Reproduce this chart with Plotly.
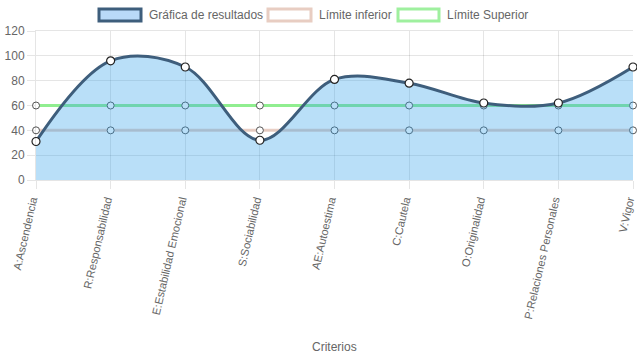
import plotly.graph_objects as go

categories = ["A:Ascendencia", "R:Responsabilidad", "E:Estabilidad Emocional",
              "S:Sociabilidad", "AE:Autoestima", "C:Cautela", "O:Originalidad",
              "P:Relaciones Personales", "V:Vigor"]
resultados = [31, 96, 91, 32, 81, 78, 62, 62, 91]
limite_inferior = [40, 40, 40, 40, 40, 40, 40, 40, 40]
limite_superior = [60, 60, 60, 60, 60, 60, 60, 60, 60]
y_ticks = [0, 20, 40, 60, 80, 100, 120]

W, H = 637, 359
L, R, T, B = 36, 4, 31, 179
PW, PH = W - L - R, H - T - B

def px(x):
    return (x - L) / PW

def py(y):
    return (H - B - y) / PH

FONT = "Liberation Sans, Arial, Helvetica, sans-serif"
TXT = "#666666"
GRID = "rgba(0,0,0,0.1)"
DARK = "#3e5e7c"
FILL = "rgba(54,162,235,0.35)"
PINK = "rgba(228,195,182,0.8)"
GREEN = "rgba(144,238,144,1)"

fig = go.Figure()
fig.add_trace(go.Scatter(
    x=categories, y=limite_inferior, mode="lines+markers", name="Límite inferior",
    line=dict(color=PINK, width=3), cliponaxis=False,
    marker=dict(size=7, color="white", line=dict(color="#555555", width=1)),
))
fig.add_trace(go.Scatter(
    x=categories, y=limite_superior, mode="lines+markers", name="Límite Superior",
    line=dict(color=GREEN, width=3), cliponaxis=False,
    marker=dict(size=7, color="white", line=dict(color="#555555", width=1)),
))
fig.add_trace(go.Scatter(
    x=categories, y=resultados, mode="lines+markers", name="Gráfica de resultados",
    line=dict(color=DARK, width=3, shape="spline", smoothing=1.0),
    fill="tozeroy", fillcolor=FILL, cliponaxis=False,
    marker=dict(size=8, color="white", line=dict(color="#222222", width=1.2)),
))

# Chart.js-style legend boxes
legend_items = [
    (99, 141, "rgba(185,218,248,1)", DARK, "Gráfica de resultados"),
    (268, 311, "white", "#e8cdc2", "Límite inferior"),
    (398, 439, "white", "#9ff09f", "Límite Superior"),
]
shapes = []
annotations = []
for x0, x1, fc, lc, label in legend_items:
    shapes.append(dict(type="rect", xref="paper", yref="paper",
                       x0=px(x0), x1=px(x1), y0=py(21), y1=py(9),
                       fillcolor=fc, line=dict(color=lc, width=3)))
    annotations.append(dict(text=label, xref="paper", yref="paper",
                            x=px(x1 + 6), y=py(15), xanchor="left", yanchor="middle",
                            showarrow=False, font=dict(family=FONT, size=12, color=TXT)))
annotations.append(dict(text="Criterios", xref="paper", yref="paper",
                        x=0.5, y=py(347), xanchor="center", yanchor="middle",
                        showarrow=False, font=dict(family=FONT, size=12, color=TXT)))

fig.update_layout(
    width=W, height=H,
    margin=dict(l=L, r=R, t=T, b=B, autoexpand=False),
    paper_bgcolor="white", plot_bgcolor="white",
    showlegend=False,
    shapes=shapes, annotations=annotations,
    font=dict(family=FONT, size=12, color=TXT),
    xaxis=dict(
        type="category", range=[0, len(categories) - 1],
        showgrid=True, gridcolor=GRID, gridwidth=1,
        ticks="outside", ticklen=8, tickcolor=GRID,
        tickangle=-77, tickfont=dict(family=FONT, size=11.2, color=TXT),
        ticklabelshift=-4,
        showline=True, linecolor=GRID, linewidth=1, mirror=True,
        automargin=False,
    ),
    yaxis=dict(
        range=[0, 120], tickvals=y_ticks,
        showgrid=True, gridcolor=GRID, gridwidth=1,
        zeroline=False,
        ticks="outside", ticklen=8, tickcolor=GRID,
        tickfont=dict(family=FONT, size=12, color=TXT),
        showline=True, linecolor=GRID, linewidth=1,
        automargin=False,
    ),
)

fig.write_html(
    "out.html",
    config={"displayModeBar": False},
    post_script="document.body.style.margin='0';document.body.style.padding='0';",
)
